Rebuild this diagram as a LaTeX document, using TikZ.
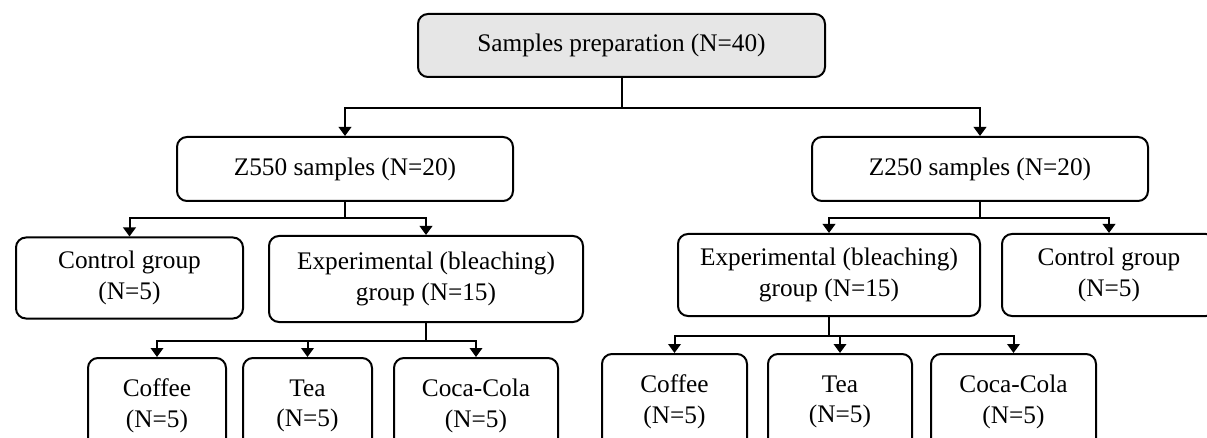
\documentclass[tikz,border=0pt]{standalone}
\usepackage{fontspec}
\setmainfont{Liberation Serif}
\usetikzlibrary{arrows.meta}
\definecolor{topfill}{RGB}{230,230,230}
\begin{document}
\begin{tikzpicture}[x=1pt,y=-1pt,
  box/.style={draw=black, line width=2pt, rounded corners=10pt, inner sep=0pt,
    align=center, font=\fontsize{25.3}{30.5}\selectfont, fill=white},
  conn/.style={draw=black, line width=2pt},
  arr/.style={conn, -{Triangle[length=9pt,width=12.5pt]}}]
\useasboundingbox (0,0) rectangle (1207,438);
\fill[white] (0,0) rectangle (1207,438);
\clip (0,0) rectangle (1207,438);
% top
\node[box, fill=topfill, minimum width=407pt, minimum height=63pt] (top) at (621.5,45.5) {Samples preparation (N=40)};
% level 2
\node[box, minimum width=336pt, minimum height=64pt] (z550) at (345,169) {Z550 samples (N=20)};
\node[box, minimum width=336pt, minimum height=64pt] (z250) at (980,169) {Z250 samples (N=20)};
% level 3 left
\node[box, minimum width=227pt, minimum height=81pt] (cl) at (129.5,278) {Control group\\(N=5)};
\node[box, minimum width=314pt, minimum height=86pt] (el) at (426,279) {Experimental (bleaching)\\group (N=15)};
% level 3 right
\node[box, minimum width=302pt, minimum height=82pt] (er) at (829,275) {Experimental (bleaching)\\group (N=15)};
\node[box, minimum width=214pt, minimum height=82pt] (cr) at (1109,275) {Control group\\(N=5)};
% level 4 left
\node[box, minimum width=138pt, minimum height=96pt] (cofl) at (157,406) {Coffee\\(N=5)};
\node[box, minimum width=129pt, minimum height=96pt] (teal) at (307.5,406) {Tea\\(N=5)};
\node[box, minimum width=164pt, minimum height=96pt] (cocl) at (476,406) {Coca-Cola\\(N=5)};
% level 4 right
\node[box, minimum width=145pt, minimum height=96pt] (cofr) at (674.5,402) {Coffee\\(N=5)};
\node[box, minimum width=144pt, minimum height=96pt] (tear) at (840,402) {Tea\\(N=5)};
\node[box, minimum width=165pt, minimum height=96pt] (cocr) at (1013.5,402) {Coca-Cola\\(N=5)};
% junctions
\coordinate (j1) at (621.5,108);
\coordinate (j2) at (345,218);
\coordinate (j3) at (980,218);
\coordinate (j4) at (426,341);
\coordinate (j5) at (829,336);
% connectors
\draw[arr] (top.south) -- (j1) -| (z550.north);
\draw[arr] (j1) -| (z250.north);
\draw[arr] (z550.south) -- (j2) -| (cl.north);
\draw[arr] (j2) -| (el.north);
\draw[arr] (z250.south) -- (j3) -| (er.north);
\draw[arr] (j3) -| (cr.north);
\draw[arr] (el.south) -- (j4) -| (cofl.north);
\draw[arr] (j4) -| (teal.north);
\draw[arr] (j4) -| (cocl.north);
\draw[arr] (er.south) -- (j5) -| (cofr.north);
\draw[arr] (j5) -| (tear.north);
\draw[arr] (j5) -| (cocr.north);
\end{tikzpicture}
\end{document}
